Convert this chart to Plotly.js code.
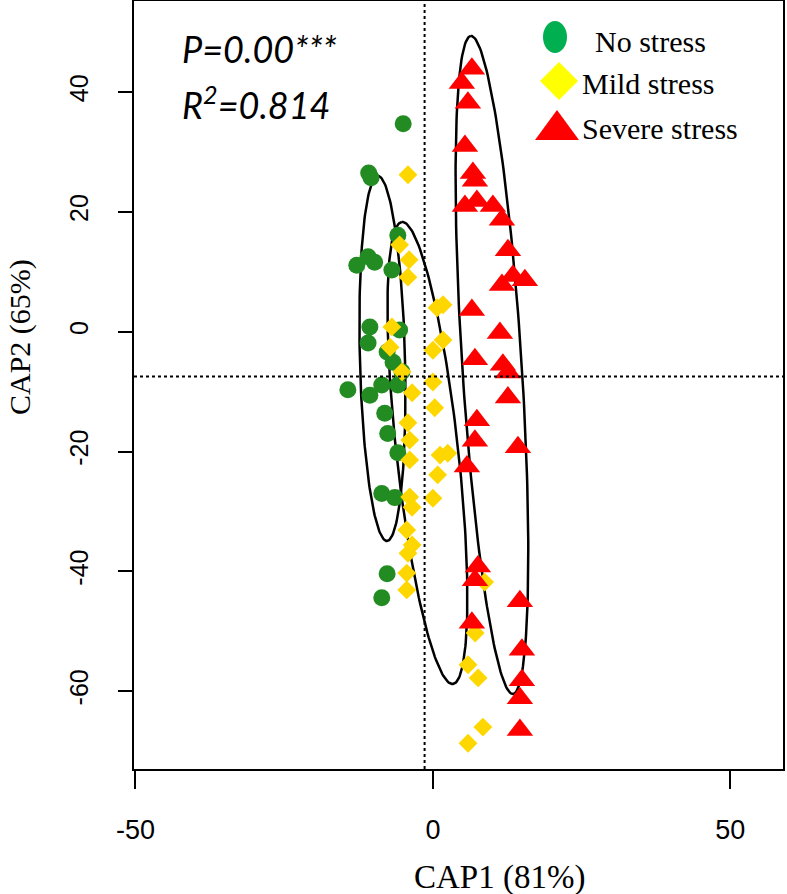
<!DOCTYPE html>
<html>
<head>
<meta charset="utf-8">
<script src="https://cdn.plot.ly/plotly-3.0.1.min.js"></script>
<style>html,body{margin:0;padding:0;background:#fff;}#chart{width:787px;height:894px;}</style>
</head>
<body>
<div id="chart"></div>
<script>
// ---- data ----
const groupNames = ["No stress", "Mild stress", "Severe stress"];

const noStressX = [-5.0,-10.8,-10.4,-5.9,-10.9,-12.8,-9.8,-6.9,-10.6,-5.6,-10.9,-7.7,-6.7,-5.2,-14.3,-10.6,-8.6,-5.9,-8.1,-7.6,-5.9,-8.6,-6.4,-7.7,-8.6];
const noStressY = [34.7,26.5,25.7,16.1,12.5,11.1,11.6,10.3,0.8,0.3,-1.9,-3.4,-5.1,-6.7,-9.7,-10.6,-8.9,-8.9,-13.6,-17.0,-20.2,-27.0,-27.7,-40.4,-44.4];

const mildX = [-4.2,-5.6,-4.0,-4.2,0.7,1.7,-6.9,-7.2,1.7,0.0,-5.2,0.0,-3.5,0.3,-4.2,-3.9,-3.9,1.2,2.5,0.8,-3.9,-3.5,0.0,-4.4,-3.5,-4.2,-4.4,-4.4,8.7,7.1,5.9,7.6,8.4,5.9];
const mildY = [26.2,14.5,12.0,9.1,4.0,4.5,0.8,-2.6,-1.4,-3.1,-6.7,-8.4,-10.2,-12.7,-15.2,-18.1,-21.4,-20.6,-20.3,-23.9,-27.6,-29.3,-27.8,-33.1,-35.6,-37.0,-40.3,-43.1,-41.8,-50.3,-55.6,-57.8,-66.0,-68.7];

const severeX = [6.55,4.87,5.88,5.38,6.72,7.06,5.38,7.39,10.08,11.60,12.61,11.60,13.45,15.46,6.55,11.26,7.06,11.76,12.61,12.61,7.39,7.06,14.29,5.71,7.56,7.06,14.62,6.55,14.96,14.96,14.62,14.62];
const severeY = [43.9,41.5,38.2,31.0,26.5,25.2,21.0,21.8,21.0,18.7,13.6,7.8,9.3,8.6,3.6,-0.2,-4.6,-5.5,-6.8,-11.0,-14.8,-18.2,-19.3,-22.5,-39.2,-41.5,-45.0,-48.6,-53.1,-58.2,-61.2,-66.5];

// ellipse major-axis end points and half widths (data units)
const ellTopX = [-9.24, -5.21, 6.39];
const ellTopY = [25.99, 18.32, 49.37];
const ellBotX = [-7.73, 3.36, 13.45];
const ellBotY = [-34.94, -58.81, -60.48];
const ellHalfWidth = [3.8, 5.2, 5.0];

// reference lines
const vLineX = -1.4;
const hLineY = -7.5;

const xTickVals = [-50, 0, 50];
const yTickVals = [-60, -40, -20, 0, 20, 40];

const statP = "P=0.00***";
const statR = "R<sup>2</sup>=0.814";

// ---- geometry helpers ----
const W = 787, H = 894;
const M = {l: 134, r: 4, t: 1, b: 125};
const plotW = W - M.l - M.r, plotH = H - M.t - M.b;
const px2paperX = px => (px - M.l) / plotW;
const py2paperY = py => (H - M.b - py) / plotH;

function ellipsePoints(i) {
  const cx = (ellTopX[i] + ellBotX[i]) / 2, cy = (ellTopY[i] + ellBotY[i]) / 2;
  const dx = ellTopX[i] - cx, dy = ellTopY[i] - cy;
  const a = Math.hypot(dx, dy);
  const ux = dx / a, uy = dy / a;
  const vx = -uy, vy = ux;
  const b = ellHalfWidth[i];
  const xs = [], ys = [];
  for (let k = 0; k <= 200; k++) {
    const t = 2 * Math.PI * k / 200;
    xs.push(cx + Math.cos(t) * a * ux + Math.sin(t) * b * vx);
    ys.push(cy + Math.cos(t) * a * uy + Math.sin(t) * b * vy);
  }
  return {xs, ys};
}

const traces = [];
for (let i = 0; i < 3; i++) {
  const e = ellipsePoints(i);
  traces.push({x: e.xs, y: e.ys, mode: 'lines', type: 'scatter',
    line: {color: '#000', width: 2.5}, hoverinfo: 'skip', showlegend: false});
}
traces.push({x: noStressX, y: noStressY, mode: 'markers', type: 'scatter', name: groupNames[0],
  marker: {symbol: 'circle', size: 17, color: '#228B22', line: {width: 0}}, showlegend: false});
traces.push({x: mildX, y: mildY, mode: 'markers', type: 'scatter', name: groupNames[1],
  marker: {symbol: 'diamond', size: 14.5, color: '#FFD700', line: {width: 0}}, showlegend: false});
traces.push({x: severeX, y: severeY, mode: 'markers', type: 'scatter', name: groupNames[2],
  marker: {symbol: 'triangle-up', size: 23, color: '#FF0000', line: {width: 0}}, showlegend: false});

// custom legend shapes (pixel positions converted to paper)
function pathPaper(pts) {
  return 'M' + pts.map(p => px2paperX(p[0]).toFixed(5) + ',' + py2paperY(p[1]).toFixed(5)).join('L') + 'Z';
}
const shapes = [
  {type: 'line', xref: 'x', yref: 'paper', x0: vLineX, x1: vLineX, y0: 0, y1: 1,
   line: {color: '#000', width: 2, dash: 'dot'}},
  {type: 'line', xref: 'paper', yref: 'y', x0: 0, x1: 1, y0: hLineY, y1: hLineY,
   line: {color: '#000', width: 2, dash: 'dot'}},
  {type: 'circle', xref: 'paper', yref: 'paper',
   x0: px2paperX(543), x1: px2paperX(567), y0: py2paperY(21), y1: py2paperY(53),
   fillcolor: '#00B050', line: {width: 0}},
  {type: 'path', xref: 'paper', yref: 'paper',
   path: pathPaper([[559, 62], [578, 81], [559, 100], [540, 81]]),
   fillcolor: '#FFFF00', line: {width: 0}},
  {type: 'path', xref: 'paper', yref: 'paper',
   path: pathPaper([[557, 110], [579, 140], [535, 140]]),
   fillcolor: '#FF0000', line: {width: 0}}
];

const serif = '"Liberation Serif", "Times New Roman", serif';
const statFont = {family: 'Lato, "Open Sans", sans-serif', size: 36, color: '#000'};
const annotations = [
  {text: groupNames[0], x: px2paperX(593), y: py2paperY(42), xref: 'paper', yref: 'paper',
   xanchor: 'left', yanchor: 'middle', showarrow: false, font: {family: serif, size: 30, color: '#000'}},
  {text: groupNames[1], x: px2paperX(580), y: py2paperY(84), xref: 'paper', yref: 'paper',
   xanchor: 'left', yanchor: 'middle', showarrow: false, font: {family: serif, size: 30, color: '#000'}},
  {text: groupNames[2], x: px2paperX(580), y: py2paperY(129), xref: 'paper', yref: 'paper',
   xanchor: 'left', yanchor: 'middle', showarrow: false, font: {family: serif, size: 30, color: '#000'}},
  {text: '<i>' + statP + '</i>', x: px2paperX(180), y: py2paperY(49), xref: 'paper', yref: 'paper',
   xanchor: 'left', yanchor: 'middle', showarrow: false, font: statFont},
  {text: '<i>' + statR + '</i>', x: px2paperX(180), y: py2paperY(103), xref: 'paper', yref: 'paper',
   xanchor: 'left', yanchor: 'middle', showarrow: false, font: statFont},
  {text: 'CAP1 (81%)', x: px2paperX(500), y: py2paperY(877), xref: 'paper', yref: 'paper',
   xanchor: 'center', yanchor: 'middle', showarrow: false, font: {family: serif, size: 33, color: '#000'}},
  {text: 'CAP2 (65%)', x: px2paperX(20), y: py2paperY(337), xref: 'paper', yref: 'paper',
   xanchor: 'center', yanchor: 'middle', textangle: -90, showarrow: false, font: {family: serif, size: 30, color: '#000'}}
];

const layout = {
  width: W, height: H,
  margin: M,
  paper_bgcolor: '#fff', plot_bgcolor: '#fff',
  showlegend: false,
  xaxis: {range: [-50.25, 58.85], tickvals: xTickVals, ticktext: xTickVals.map(String),
    showgrid: false, zeroline: false, showline: true, linecolor: '#000', linewidth: 2, mirror: true,
    ticks: 'outside', ticklen: 18, tickwidth: 2, tickcolor: '#000', ticklabelstandoff: 18,
    tickfont: {family: '"Liberation Sans", Arial, sans-serif', size: 27, color: '#000'}},
  yaxis: {range: [-73.0, 55.2], tickvals: yTickVals, ticktext: yTickVals.map(String),
    showgrid: false, zeroline: false, showline: true, linecolor: '#000', linewidth: 2, mirror: true,
    ticks: 'outside', ticklen: 14, tickwidth: 2, tickcolor: '#000', tickangle: -90, ticklabelstandoff: 20,
    tickfont: {family: '"Liberation Sans", Arial, sans-serif', size: 25, color: '#000'}},
  shapes: shapes,
  annotations: annotations
};

Plotly.newPlot('chart', traces, layout, {displayModeBar: false, staticPlot: true});
</script>
</body>
</html>
